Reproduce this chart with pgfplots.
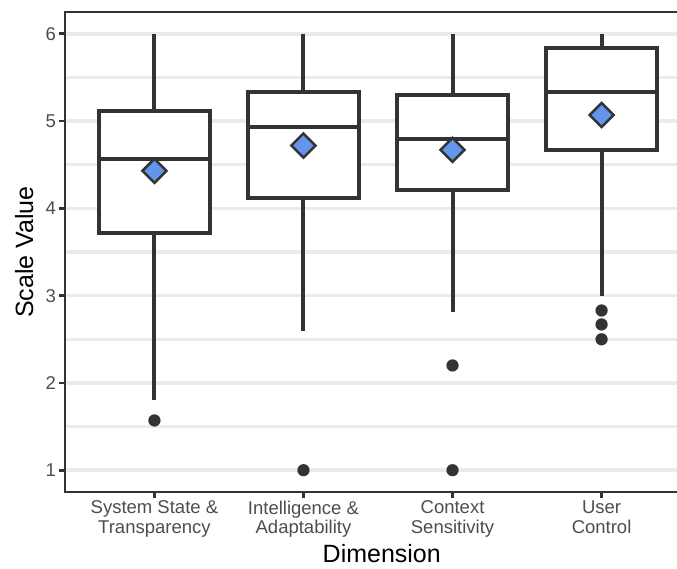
\documentclass[border=0pt]{standalone}
\usepackage{pgfplots}
\pgfplotsset{compat=1.18}
\usepgfplotslibrary{statistics}
\usepackage{fontspec}
\setmainfont{Liberation Sans}
\definecolor{dark}{HTML}{333333}
\definecolor{tickgray}{HTML}{4D4D4D}
\definecolor{gridgray}{HTML}{EBEBEB}
\definecolor{meanblue}{HTML}{6495ED}
\begin{document}
\begin{tikzpicture}
\begin{axis}[
  name=ax,
  scale only axis, width=626pt, height=480pt,
  xmin=0.4, xmax=4.6, ymin=0.75, ymax=6.25,
  /pgf/number format/assume math mode=true,
  xtick={1,2,3,4},
  xticklabels={{System State \&\\Transparency},{Intelligence \&\\Adaptability},{Context\\Sensitivity},{User\\Control}},
  ytick={1,2,3,4,5,6},
  yticklabels={1,2,3,4,5,6},
  minor ytick={1.5,2.5,3.5,4.5,5.5},
  ymajorgrids, yminorgrids,
  major grid style={gridgray, line width=3.5pt},
  minor grid style={gridgray, line width=3.5pt},
  axis line style={dark, line width=2.7pt},
  tick style={dark, line width=2.7pt},
  major tick length=5.5pt,
  minor tick length=0pt,
  tick align=outside,
  xtick pos=bottom, ytick pos=left,
  xticklabel style={align=center, font=\fontsize{18.5}{19.5}\selectfont, text=tickgray},
  yticklabel style={font=\fontsize{18.5}{19.5}\selectfont, text=tickgray},
  xlabel={Dimension},
  xlabel style={at={(axis description cs:0.506,-0.146)}, anchor=base, font=\fontsize{25}{30}\selectfont, text=black},
  ylabel={Scale Value},
  ylabel style={at={(axis description cs:-0.0511,0.5)}, anchor=base, font=\fontsize{25}{30}\selectfont, text=black},
  boxplot/draw direction=y,
]
\addplot[boxplot prepared={draw position=1, lower whisker=1.80, lower quartile=3.72, median=4.565, upper quartile=5.11, upper whisker=6.0, box extend=0.75, whisker extend=0},
  draw=dark, line width=4pt, fill=white, mark=*, mark size=6pt, mark options={fill=dark, draw=dark, line width=0.1pt}]
  table[row sep=\\, y index=0] {1.57\\};
\addplot[boxplot prepared={draw position=2, lower whisker=2.59, lower quartile=4.12, median=4.93, upper quartile=5.33, upper whisker=6.0, box extend=0.75, whisker extend=0},
  draw=dark, line width=4pt, fill=white, mark=*, mark size=6pt, mark options={fill=dark, draw=dark, line width=0.1pt}]
  table[row sep=\\, y index=0] {1.0\\};
\addplot[boxplot prepared={draw position=3, lower whisker=2.81, lower quartile=4.21, median=4.80, upper quartile=5.30, upper whisker=6.0, box extend=0.75, whisker extend=0},
  draw=dark, line width=4pt, fill=white, mark=*, mark size=6pt, mark options={fill=dark, draw=dark, line width=0.1pt}]
  table[row sep=\\, y index=0] {2.2\\ 1.0\\};
\addplot[boxplot prepared={draw position=4, lower whisker=3.0, lower quartile=4.67, median=5.33, upper quartile=5.84, upper whisker=6.0, box extend=0.75, whisker extend=0},
  draw=dark, line width=4pt, fill=white, mark=*, mark size=6pt, mark options={fill=dark, draw=dark, line width=0.1pt}]
  table[row sep=\\, y index=0] {2.83\\ 2.67\\ 2.5\\};
\addplot[only marks, mark=square*, mark size=8.5pt, mark options={rotate=45, fill=meanblue, draw=dark, line width=2.5pt}]
  coordinates {(1,4.43) (2,4.72) (3,4.67) (4,5.07)};
\end{axis}
\pgfresetboundingbox
\path[use as bounding box] ([xshift=-65pt,yshift=-76pt]ax.south west) rectangle ([xshift=612pt,yshift=492pt]ax.south west);
\end{tikzpicture}
\end{document}
